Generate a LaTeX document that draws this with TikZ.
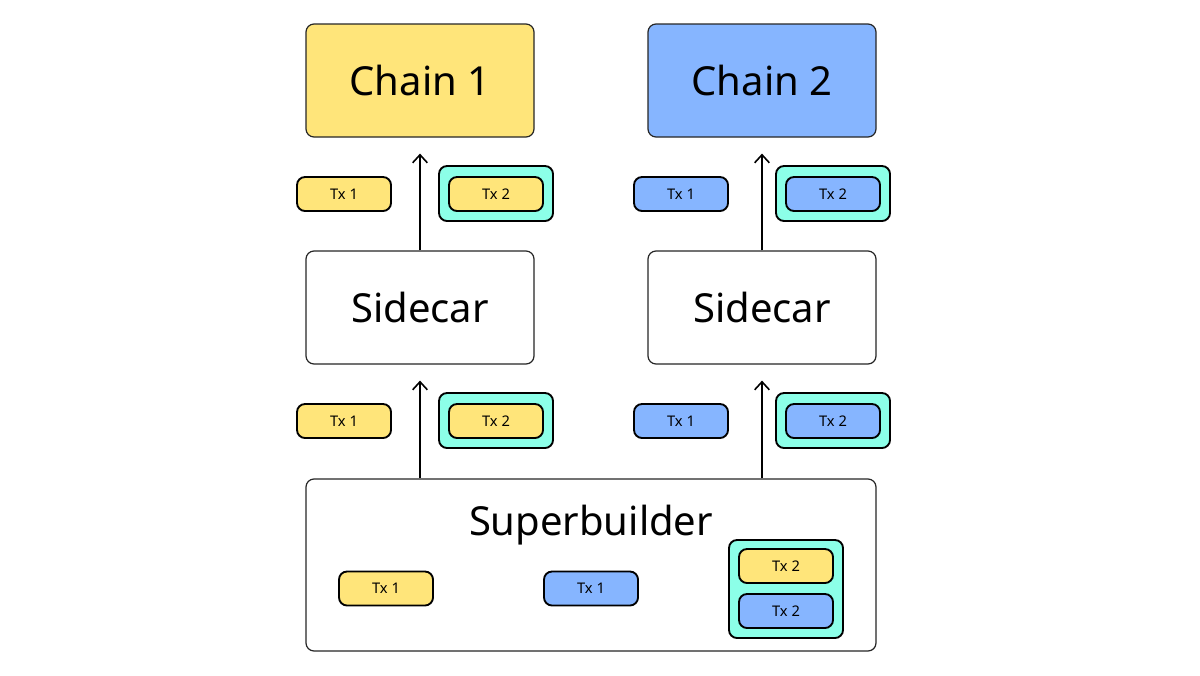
\documentclass[tikz,border=0pt]{standalone}
\usepackage{fontspec}
\setmainfont{Noto Sans}
\usetikzlibrary{arrows.meta}
\definecolor{txyellow}{RGB}{255,229,122}
\definecolor{txblue}{RGB}{134,181,255}
\definecolor{wrapcyan}{RGB}{140,255,232}
\tikzset{
  bigbox/.style={draw=black!85, line width=0.9pt, rounded corners=6pt,
    minimum width=171pt, minimum height=84.75pt, font=\fontsize{30}{36}\selectfont},
  txbox/.style={draw=black, line width=1.4pt, rounded corners=6pt,
    minimum width=70.5pt, minimum height=25.5pt, font=\fontsize{11}{13}\selectfont},
  wrapbox/.style={draw=black, line width=1.4pt, rounded corners=6pt, fill=wrapcyan,
    minimum width=85.5pt, minimum height=41.25pt},
  uparrow/.style={line width=1.2pt, -{Straight Barb[length=6pt,width=11pt]}, shorten >=12pt}
}
\begin{document}
\begin{tikzpicture}[x=0.75pt,y=-0.75pt]
\useasboundingbox (0,0) rectangle (1200,675);
% chains and sidecars
\foreach \c/\x/\col in {1/420/txyellow,2/762/txblue} {
  \node[bigbox, fill=\col] (chain\c) at (\x,80.5) {Chain \c};
  \node[bigbox, fill=white] (side\c) at (\x,307.5) {Sidecar};
}
% superbuilder
\node[bigbox, fill=white, minimum width=427.5pt, minimum height=129pt] (super) at (591,565) {};
\node[font=\fontsize{30}{36}\selectfont] (superlabel) at (591,525) {Superbuilder};
\node[txbox, fill=txyellow] (stx1a) at (386,588.5) {Tx 1};
\node[txbox, fill=txblue] (stx1b) at (591,588.5) {Tx 1};
\node[wrapbox, minimum height=73.5pt] (swrap) at (786,589) {};
\node[txbox, fill=txyellow] (stx2a) at (786,566) {Tx 2};
\node[txbox, fill=txblue] (stx2b) at (786,611) {Tx 2};
% transactions between the layers
\foreach \r/\y in {1/194,2/421}
\foreach \c/\x/\col in {1/0/txyellow,2/337/txblue} {
  \node[txbox, fill=\col] (tx\r\c) at (344+\x,\y) {Tx 1};
  \node[wrapbox] (wrap\r\c) at (496+\x,\y-0.5) {};
  \node[txbox, fill=\col] (txx\r\c) at (496+\x,\y) {Tx 2};
}
% arrows
\foreach \c in {1,2} {
  \draw[uparrow] (side\c |- super.north) -- (side\c.south);
  \draw[uparrow] (side\c.north) -- (chain\c.south);
}
\end{tikzpicture}
\end{document}
